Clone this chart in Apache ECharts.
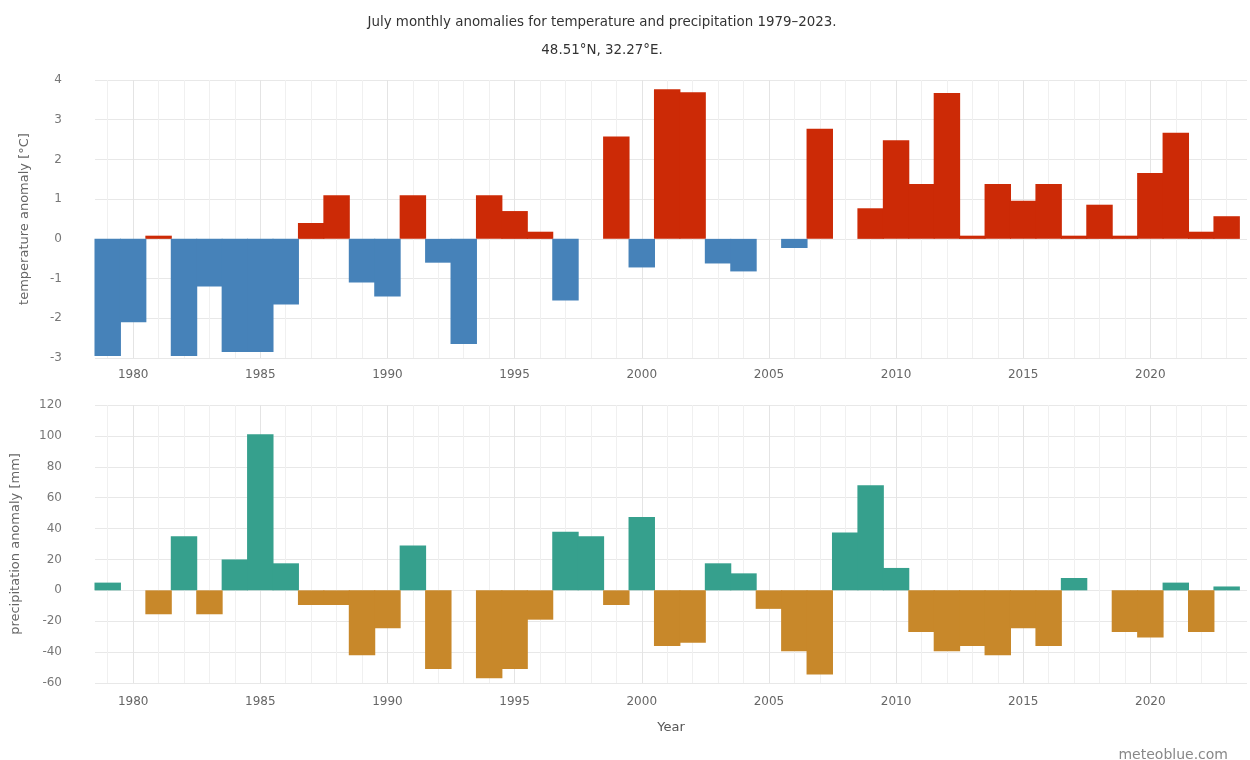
<!DOCTYPE html>
<html>
<head>
<meta charset="utf-8">
<script src="https://cdn.jsdelivr.net/npm/echarts@6/dist/echarts.min.js"></script>
<style>html,body{margin:0;padding:0;background:#fff}#c{width:1250px;height:760px}</style>
</head>
<body>
<div id="c"></div>
<script>
const years = [1979,1980,1981,1982,1983,1984,1985,1986,1987,1988,1989,1990,1991,1992,1993,1994,1995,1996,1997,1998,1999,2000,2001,2002,2003,2004,2005,2006,2007,2008,2009,2010,2011,2012,2013,2014,2015,2016,2017,2018,2019,2020,2021,2022,2023];
const tempAnomaly = [-2.95,-2.1,0.08,-2.95,-1.2,-2.85,-2.85,-1.65,0.4,1.1,-1.1,-1.45,1.1,-0.6,-2.65,1.1,0.7,0.18,-1.55,0,2.58,-0.72,3.77,3.69,-0.62,-0.82,0,-0.23,2.77,0,0.77,2.48,1.38,3.67,0.08,1.38,0.96,1.38,0.08,0.86,0.08,1.66,2.67,0.18,0.57];
const precAnomaly = [5,0,-15.5,35,-15.5,20,101,17.5,-9.5,-9.5,-42,-24.5,29,-51,0,-57,-51,-19,38,35,-9.5,47.5,-36,-34,17.5,11,-12,-39.5,-54.5,37.5,68,14.5,-27,-39.5,-36,-42,-24.5,-36,8,0,-27,-30.5,5,-27,2.5];
const tempTicks = {min:-3, max:4, interval:1};
const precTicks = {min:-60, max:120, interval:20};

const chart = echarts.init(document.getElementById('c'));
const FONT = 'DejaVu Sans';
const gridTop = {left:95, right:2, top:80, height:278};
const gridBot = {left:95, right:2, top:405, height:278};

function xAxes(gi, withName){
  return [
    {type:'value', gridIndex:gi, position:'bottom', min:1978.5, max:2023.8, splitNumber:45, minInterval:1, maxInterval:1,
     axisLine:{show:false}, axisTick:{show:false}, axisLabel:{show:false},
     splitLine:{show:true, showMinLine:false, showMaxLine:false, lineStyle:{color:'#f0f0f0', width:1}}},
    {type:'value', gridIndex:gi, position:'bottom', min:1978.5, max:2023.8, splitNumber:9, minInterval:5, maxInterval:5,
     axisLine:{show:false}, axisTick:{show:false},
     axisLabel:{show:true, color:'#666', fontFamily:FONT, fontSize:12, margin:withName?13:11,
       formatter: v => (v % 5 === 0 ? String(v) : '')},
     splitLine:{show:true, showMinLine:false, showMaxLine:false, lineStyle:{color:'#e4e4e4', width:1}},
     name: withName ? 'Year' : '', nameLocation:'middle', nameGap:38,
     nameTextStyle:{color:'#555', fontFamily:FONT, fontSize:13}}
  ];
}

function signedSeries(values, xi, yi, positive, color){
  return {
    type:'bar', xAxisIndex:xi, yAxisIndex:yi, barWidth:'104%', barGap:'-100%',
    data: years.map((y,i)=>{
      const v = values[i];
      const keep = positive ? v > 0 : v < 0;
      return [y, keep ? v : null];
    }),
    itemStyle:{color:color}
  };
}

const option = {
  backgroundColor:'#fff',
  animation:false,
  title:[
    {text:'July monthly anomalies for temperature and precipitation 1979–2023.', left:597, top:11, textAlign:'center',
     textStyle:{fontFamily:FONT, fontSize:13.4, fontWeight:'normal', color:'#333'}},
    {text:'48.51°N, 32.27°E.', left:597, top:39, textAlign:'center',
     textStyle:{fontFamily:FONT, fontSize:13.4, fontWeight:'normal', color:'#333'}},
    {text:'meteoblue.com', right:17, top:743,
     textStyle:{fontFamily:FONT, fontSize:14, fontWeight:'normal', color:'#888'}}
  ],
  grid:[gridTop, gridBot],
  xAxis:[...xAxes(0,false), ...xAxes(1,true)],
  yAxis:[
    {type:'value', gridIndex:0, min:tempTicks.min, max:tempTicks.max, interval:tempTicks.interval,
     axisLine:{show:false}, axisTick:{show:false},
     axisLabel:{color:'#777', fontFamily:FONT, fontSize:12, margin:33},
     splitLine:{lineStyle:{color:'#e8e8e8'}},
     name:'temperature anomaly [°C]', nameLocation:'middle', nameGap:64,
     nameTextStyle:{color:'#666', fontFamily:FONT, fontSize:13}},
    {type:'value', gridIndex:1, min:precTicks.min, max:precTicks.max, interval:precTicks.interval,
     axisLine:{show:false}, axisTick:{show:false},
     axisLabel:{color:'#777', fontFamily:FONT, fontSize:12, margin:33},
     splitLine:{lineStyle:{color:'#e8e8e8'}},
     name:'precipitation anomaly [mm]', nameLocation:'middle', nameGap:73,
     nameTextStyle:{color:'#666', fontFamily:FONT, fontSize:13}}
  ],
  series:[
    signedSeries(tempAnomaly, 0, 0, true, '#cc2a06'),
    signedSeries(tempAnomaly, 0, 0, false, '#4682b9'),
    signedSeries(precAnomaly, 2, 1, true, '#36a08d'),
    signedSeries(precAnomaly, 2, 1, false, '#c8882a')
  ]
};
chart.setOption(option);
</script>
</body>
</html>
